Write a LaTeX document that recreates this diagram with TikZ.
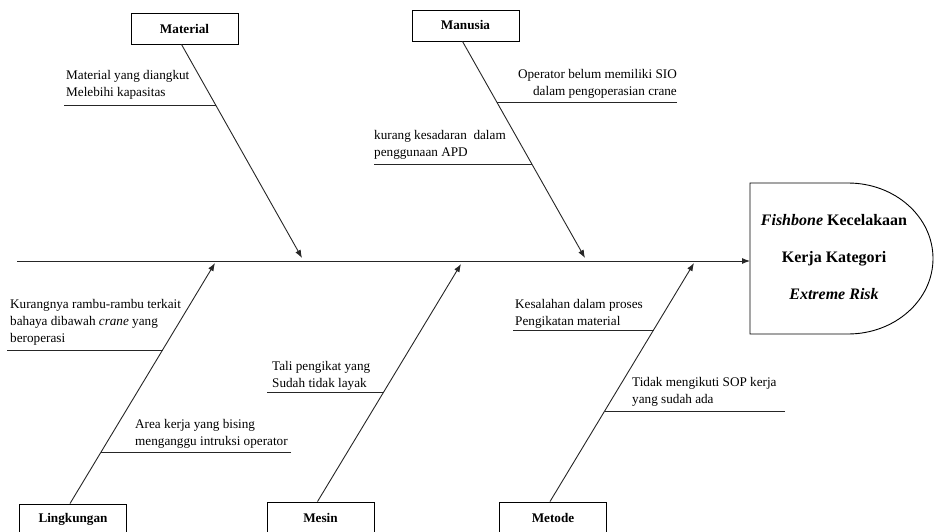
\documentclass[tikz,border=0pt]{standalone}
\usepackage{fontspec}
\setmainfont{Liberation Serif}
\usetikzlibrary{calc,arrows.meta,positioning}
\tikzset{>={Latex[length=8pt,width=6pt]}}

\begin{document}
\begin{tikzpicture}[x=1pt,y=-1pt]
  \useasboundingbox (0,0) rectangle (936,532);
  \clip (0,0) rectangle (936,532);
  \tikzstyle{cause_box}=[draw, rectangle, line width=0.9pt, minimum width=107pt, minimum height=31pt, inner sep=0pt, font=\fontsize{13.2}{17}\selectfont\bfseries]
  \tikzstyle{bone}=[->, line width=0.9pt, black!85]
  \tikzstyle{sub_bone}=[line width=0.9pt, black!85]
  \tikzstyle{note}=[inner sep=0pt, text depth=3pt, anchor=south west, align=left, font=\fontsize{13.2}{17}\selectfont]

  % cause boxes
  \foreach \n/\x/\y in {Material/184.5/28.5, Manusia/465.5/25.5, Lingkungan/73/519.5, Mesin/320.5/517.5, Metode/553/517.5}
  {
    \node[cause_box] (\n) at (\x,\y) {\n};
  }

  % head
  \node[font=\fontsize{16}{37}\selectfont\bfseries, align=center] (head) at (834,257)
    {\textit{Fishbone} Kecelakaan\\Kerja Kategori\\\textit{Extreme Risk}};
  \draw[line width=0.9pt] (750,183) -- (848,183)
    arc[start angle=90, end angle=-90, x radius=85pt, y radius=75.5pt] -- (750,334) -- cycle;

  % spine
  \coordinate (tail) at (17,261);
  \coordinate (headin) at (750,261);
  \draw[bone] (tail) -- (headin);

  % bones
  \coordinate (tMaterial) at (302,258);
  \coordinate (tManusia) at (585,258);
  \coordinate (tLingkungan) at (215,263);
  \coordinate (tMesin) at (461,264);
  \coordinate (tMetode) at (694,263);
  \foreach \n in {Material,Manusia}
    \draw[bone] ([xshift=-3pt]\n.south) -- (t\n);
  \foreach \n in {Lingkungan,Mesin,Metode}
    \draw[bone] ([xshift=-3pt]\n.north) -- (t\n);

  % joints on the bones
  \path ([xshift=-3pt]Material.south) -- (tMaterial) coordinate[pos=0.285] (jMaterial1);
  \path ([xshift=-3pt]Manusia.south) -- (tManusia) coordinate[pos=0.281] (jManusia1)
                                                   coordinate[pos=0.567] (jManusia2);
  \path ([xshift=-3pt]Lingkungan.north) -- (tLingkungan) coordinate[pos=0.639] (jLingkungan1)
                                                         coordinate[pos=0.216] (jLingkungan2);
  \path ([xshift=-3pt]Mesin.north) -- (tMesin) coordinate[pos=0.462] (jMesin1);
  \path ([xshift=-3pt]Metode.north) -- (tMetode) coordinate[pos=0.720] (jMetode1)
                                                 coordinate[pos=0.381] (jMetode2);

  % free ends of the sub bones
  \coordinate (eMaterial1) at (64,105);
  \coordinate (eManusia1) at (677,102);
  \coordinate (eManusia2) at (374,164);
  \coordinate (eLingkungan1) at (7,350);
  \coordinate (eLingkungan2) at (291,452);
  \coordinate (eMesin1) at (267,392);
  \coordinate (eMetode1) at (513,330);
  \coordinate (eMetode2) at (785,411);
  \foreach \s in {Material1,Manusia1,Manusia2,Lingkungan1,Lingkungan2,Mesin1,Metode1,Metode2}
    \draw[sub_bone] (e\s) -- (e\s -| j\s);

  % causes
  \node[note] (cMaterial1) at (66,100) {Material yang diangkut\\Melebihi kapasitas};
  \node[note, anchor=south east, align=right] (cManusia1) at (677,99) {Operator belum memiliki SIO\\dalam pengoperasian crane};
  \node[note] (cManusia2) at (374,160) {kurang kesadaran\ \ dalam\\penggunaan APD};
  \node[note] (cLingkungan1) at (10,346) {Kurangnya rambu-rambu terkait\\bahaya dibawah \textit{crane} yang\\beroperasi};
  \node[note] (cLingkungan2) at (135,449) {Area kerja yang bising\\menganggu intruksi operator};
  \node[note] (cMesin1) at (272,391) {Tali pengikat yang\\Sudah tidak layak};
  \node[note] (cMetode1) at (515,329) {Kesalahan dalam proses\\Pengikatan material};
  \node[note] (cMetode2) at (632,407) {Tidak mengikuti SOP kerja\\yang sudah ada};
\end{tikzpicture}
\end{document}
